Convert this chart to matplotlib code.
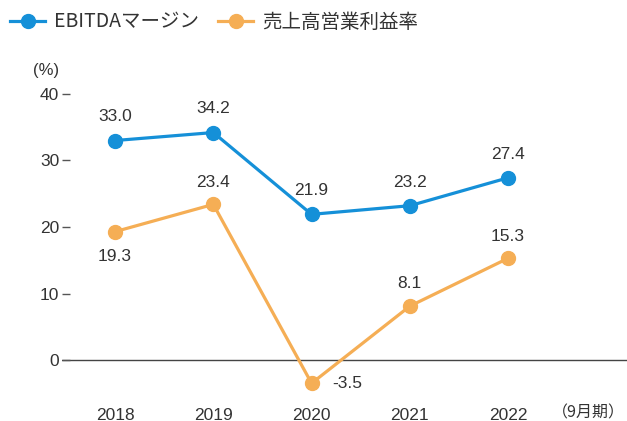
import matplotlib
matplotlib.use("Agg")
import matplotlib.pyplot as plt
from matplotlib.lines import Line2D
from matplotlib import font_manager

years = ["2018", "2019", "2020", "2021", "2022"]
ebitda = [33.0, 34.2, 21.9, 23.2, 27.4]
op_margin = [19.3, 23.4, -3.5, 8.1, 15.3]
series_names = ["EBITDAマージン", "売上高営業利益率"]
yticks = [0, 10, 20, 30, 40]

names = {f.name for f in font_manager.fontManager.ttflist}
num_font = "Liberation Sans Narrow" if "Liberation Sans Narrow" in names else "Liberation Sans"
fams = [num_font, "Noto Sans CJK JP", "DejaVu Sans"]
plt.rcParams["font.family"] = fams

blue = "#1590d8"
orange = "#f5ae55"
txt = "#333333"

W, H = 627, 421
fig = plt.figure(figsize=(W / 100, H / 100), dpi=100)
ax = fig.add_axes([62 / W, (H - 395) / H, 1 - 62 / W, (395 - 80) / H])

x = list(range(len(years)))
ax.plot(x, ebitda, color=blue, lw=2.3, marker="o", ms=10, zorder=3)
ax.plot(x, op_margin, color=orange, lw=2.3, marker="o", ms=10, zorder=3)
ax.axhline(0, color="#444444", lw=1, zorder=1)

ax.set_xlim(-0.54, 5.21)
ax.set_ylim(-5.26, 42.1)
for s in ax.spines.values():
    s.set_visible(False)
ax.set_yticks(yticks)
ax.set_yticklabels([str(v) for v in yticks])
ax.tick_params(axis="y", direction="in", length=6, width=1, color="#555555",
               pad=2, labelsize=12.5, labelcolor=txt)
ax.set_xticks(x)
ax.set_xticklabels(years)
ax.tick_params(axis="x", length=0, pad=9, labelsize=12.5, labelcolor=txt)

for i, v in enumerate(ebitda):
    ax.annotate(f"{v:.1f}", (i, v), xytext=(0, 17), textcoords="offset points",
                ha="center", va="center", fontsize=12.5, color=txt)
offsets = [(0, -18), (0, 16), (15, 0), (0, 16), (0, 16)]
for i, v in enumerate(op_margin):
    dx, dy = offsets[i]
    ax.annotate(f"{v:.1f}", (i, v), xytext=(dx, dy), textcoords="offset points",
                ha="left" if dx else "center", va="center", fontsize=12.5, color=txt)

fig.text(46 / W, 1 - 70 / H, "(%)", ha="center", va="center", fontsize=12, color=txt)
fig.text(625 / W, 1 - 413 / H, "（9月期）", ha="right", va="center", fontsize=11.5,
         color=txt, family=["Noto Sans CJK JP"])

handles = [Line2D([], [], color=blue, lw=2.3, marker="o", ms=10),
           Line2D([], [], color=orange, lw=2.3, marker="o", ms=10)]
fig.legend(handles, series_names, loc="center left", bbox_to_anchor=(10 / W, 1 - 22 / H),
           ncol=2, frameon=False, handlelength=1.8, handletextpad=0.45,
           borderpad=0, borderaxespad=0,
           columnspacing=1.0, labelcolor=txt, prop={"family": ["Noto Sans CJK JP"], "size": 14})

fig.savefig("out.png", dpi=100)
